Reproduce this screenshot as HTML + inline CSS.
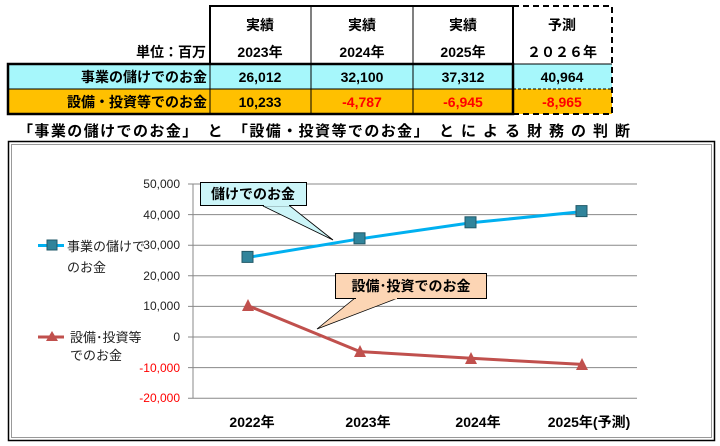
<!DOCTYPE html>
<html><head><meta charset="utf-8"><style>
body{margin:0;background:#fff;width:720px;height:446px;overflow:hidden;font-family:"Liberation Sans","Noto Sans CJK JP",sans-serif;}
</style></head><body>
<svg width="720" height="446" style="position:absolute;left:0;top:0" font-family="Liberation Sans, Noto Sans CJK JP, sans-serif">
<rect x="8" y="64" width="505" height="25" fill="#a6f7fb"/>
<rect x="513" y="64" width="99" height="25" fill="#a6f7fb"/>
<rect x="8" y="89" width="505" height="25" fill="#ffc000"/>
<rect x="513" y="89" width="99" height="25" fill="#ffc000"/>
<g stroke="#000" fill="none">
<line x1="311" y1="6" x2="311" y2="114" stroke-width="1"/>
<line x1="413" y1="6" x2="413" y2="114" stroke-width="1"/>
<line x1="8" y1="89" x2="513" y2="89" stroke-width="1"/>
<polyline points="210,64 210,6 513,6 513,114" stroke-width="2"/>
<rect x="8" y="64" width="505" height="50" stroke-width="2.5"/>
<line x1="210" y1="64" x2="210" y2="114" stroke-width="1"/>
<polyline points="513,6 612,6 612,114 513,114" stroke-width="2" stroke-dasharray="6,4"/>
<line x1="513" y1="89" x2="612" y2="89" stroke-width="1" stroke-dasharray="3,2"/>
<line x1="513" y1="64" x2="612" y2="64" stroke-width="1"/>
</g>
<g font-size="14" font-weight="bold" text-anchor="middle">
<text x="260" y="30">実績</text><text x="362" y="30">実績</text><text x="463" y="30">実績</text><text x="562" y="30">予測</text>
<text x="260" y="57">2023年</text><text x="362" y="57">2024年</text><text x="463" y="57">2025年</text><text x="562" y="57">２０２６年</text>
<text x="260" y="82">26,012</text><text x="362" y="82">32,100</text><text x="463" y="82">37,312</text><text x="562" y="82">40,964</text>
<text x="260" y="107">10,233</text>
<g fill="#ff0000"><text x="362" y="107">-4,787</text><text x="463" y="107">-6,945</text><text x="562" y="107">-8,965</text></g>
<g text-anchor="end"><text x="206" y="57">単位：百万</text><text x="207" y="82">事業の儲けでのお金</text><text x="207" y="107">設備・投資等でのお金</text></g>
</g>
<text x="18" y="136" font-size="15" font-weight="bold" textLength="612" lengthAdjust="spacing">「事業の儲けでのお金」　と　「設備・投資等でのお金」　と に よ る 財 務 の 判 断</text>
<rect x="8.5" y="141.5" width="706" height="299" fill="#fff" stroke="#000" stroke-width="1.5"/>
<rect x="11.5" y="144.5" width="700" height="293" fill="none" stroke="#999" stroke-width="1"/>
<g stroke="#888" stroke-width="1">
<line x1="188" y1="184" x2="637" y2="184"/><line x1="188" y1="214.6" x2="637" y2="214.6"/>
<line x1="188" y1="245.2" x2="637" y2="245.2"/><line x1="188" y1="275.8" x2="637" y2="275.8"/>
<line x1="188" y1="306.4" x2="637" y2="306.4"/><line x1="188" y1="337" x2="637" y2="337"/>
<line x1="188" y1="367.6" x2="637" y2="367.6"/><line x1="188" y1="398.2" x2="637" y2="398.2"/>
<line x1="193" y1="184" x2="193" y2="398.2"/>
</g>
<g font-size="12" text-anchor="end" fill="#222">
<text x="180" y="188">50,000</text><text x="180" y="219">40,000</text><text x="180" y="249">30,000</text>
<text x="180" y="280">20,000</text><text x="180" y="310">10,000</text><text x="180" y="341">0</text>
<text x="180" y="372" fill="#ff0000">-10,000</text><text x="180" y="402" fill="#ff0000">-20,000</text>
</g>
<g font-size="14" font-weight="bold" text-anchor="middle">
<text x="252" y="427">2022年</text><text x="368" y="427">2023年</text><text x="478" y="427">2024年</text><text x="589" y="427">2025年(予測)</text>
</g>
<polyline points="248,257.4 360,238.8 471,222.8 582,211.6" fill="none" stroke="#00b0f0" stroke-width="3"/>
<g fill="#31849b" stroke="#215968" stroke-width="1">
<rect x="242" y="251.4" width="11" height="11"/><rect x="354" y="232.8" width="11" height="11"/>
<rect x="465" y="216.8" width="11" height="11"/><rect x="576" y="205.6" width="11" height="11"/>
</g>
<polyline points="248,305.7 360,351.6 471,358.3 582,364.4" fill="none" stroke="#c0504d" stroke-width="3"/>
<g fill="#c0504d">
<polygon points="248,299 242,311 254,311"/><polygon points="360,345 354,357 366,357"/>
<polygon points="471,352 465,364 477,364"/><polygon points="582,358 576,370 588,370"/>
</g>
<line x1="38" y1="245.5" x2="64" y2="245.5" stroke="#00b0f0" stroke-width="3"/>
<rect x="47" y="240" width="10" height="10" fill="#31849b" stroke="#215968"/>
<line x1="38" y1="337" x2="64" y2="337" stroke="#c0504d" stroke-width="3"/>
<polygon points="52,331 46,341 58,341" fill="#c0504d"/>
<g font-size="13" fill="#222">
<text x="67" y="251">事業の儲けで</text><text x="67" y="272">のお金</text>
<text x="70" y="342">設備･投資等</text><text x="70" y="360">でのお金</text>
</g>
<polygon points="263,206 333,240 290,206" fill="#ccf5f8" stroke="#000" stroke-width="0.8"/>
<rect x="200.5" y="182.5" width="106" height="23" fill="#ccf5f8" stroke="#000"/>
<line x1="264" y1="205.5" x2="289" y2="205.5" stroke="#ccf5f8" stroke-width="1.5"/>
<text x="253" y="199" font-size="14" font-weight="bold" text-anchor="middle">儲けでのお金</text>
<polygon points="355,298 317,329 398,298" fill="#fcd5b4" stroke="#000" stroke-width="0.8"/>
<rect x="335.5" y="273.5" width="151" height="25" fill="#fcd5b4" stroke="#000"/>
<line x1="356" y1="298.5" x2="397" y2="298.5" stroke="#fcd5b4" stroke-width="1.5"/>
<text x="411" y="291" font-size="14" font-weight="bold" text-anchor="middle">設備･投資でのお金</text>
</svg>
</body></html>
